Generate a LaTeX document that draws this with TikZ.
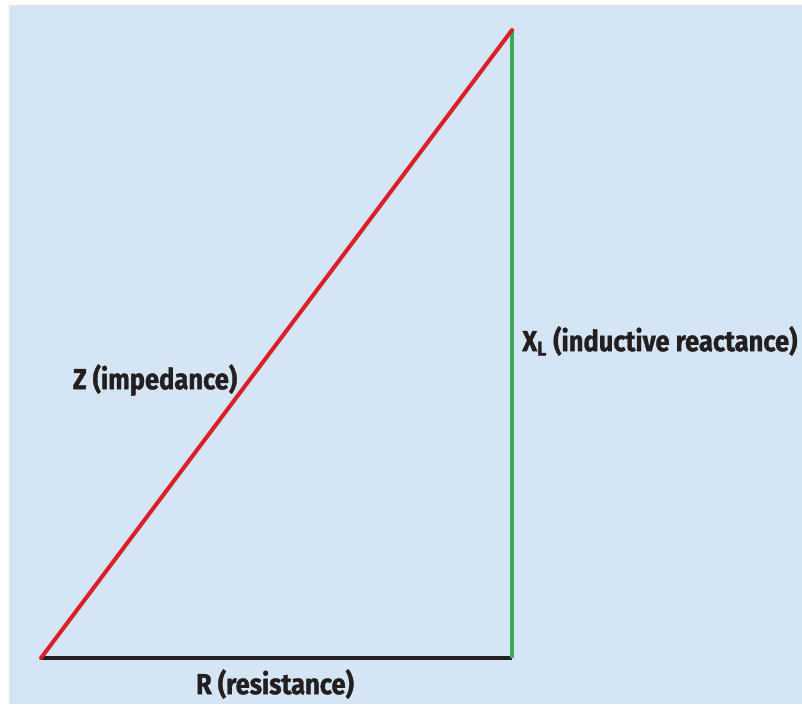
\documentclass[tikz,border=0pt]{standalone}
\usepackage{fontspec}
\setmainfont{Fira Sans}[FakeStretch=0.88, BoldFeatures={FakeBold=1.2}]
\usepackage{tikz}
\usetikzlibrary{positioning}
\definecolor{bgblue}{HTML}{D5E5F5}
\definecolor{zred}{HTML}{D71F2A}
\definecolor{xgreen}{HTML}{3BAA5B}
\definecolor{rblack}{HTML}{231F20}
\begin{document}
\begin{tikzpicture}[
  x=0.02cm, y=-0.02cm,
  side/.style={line width=0.08cm, line cap=round},
  lbl/.style={font=\fontsize{16.5}{18}\selectfont\bfseries, text=rblack, inner sep=0pt}
]
\useasboundingbox (0,0) rectangle (802,704);
\fill[bgblue] (9,5) rectangle (802,704);

% --- Vertices ---
\coordinate (A) at (41,658);
\coordinate (B) at (512,658);
\coordinate (C) at (512,30);

% --- Sides ---
\draw[side, rblack, line cap=butt] (A) -- (B);
\draw[side, xgreen, line cap=butt] (B) -- (C);
\draw[side, zred] (A) -- (C);

% --- Labels ---
\node[lbl] (zlab) at (155,380) {Z (impedance)};
\node[lbl, anchor=west] (xlab) at (522,341) {X\textsubscript{L} (inductive reactance)};
\node[lbl] (rlab) at (275,684) {R (resistance)};
\end{tikzpicture}
\end{document}
